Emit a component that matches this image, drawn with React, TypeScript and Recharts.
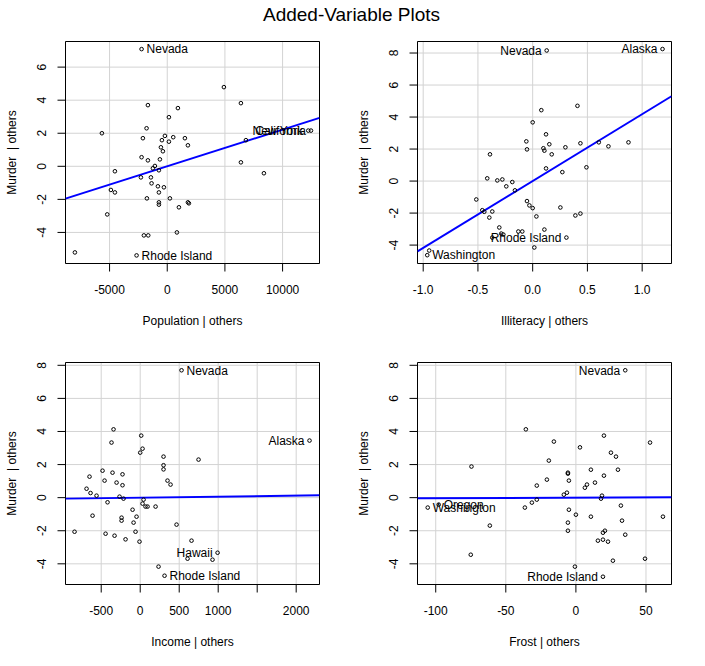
import React from "react";
import {
  ScatterChart, Scatter, XAxis, YAxis, CartesianGrid, ReferenceLine, ReferenceArea,
} from "recharts";

// residuals, one pair of arrays per panel
const popX = [4913, 6387, -1676, 925, 145, -1792, -5664, -2110, -202, 520, 1532, -462, 145, 1792, -549, -376, -2225, -1676, -636, -1069, -1243, -723, -4537, 6387, 8381, -2283, -1416, -1358, -809, -289, -4884, -4537, -723, -1763, 231, -723, -723, 1012, 1792, 1879, -5202, -2023, -1647, 838, -8005, 6820];
const popY = [4.79, 3.82, 3.7, 3.52, 2.97, 2.3, 2.0, 1.7, 1.84, 1.76, 1.7, 1.58, 1.49, 1.27, 1.15, 0.91, 0.55, 0.36, 0.42, 0.02, -0.12, -0.24, -0.3, 0.24, -0.42, -0.67, -0.67, -1.03, -1.21, -1.27, -1.43, -1.58, -1.58, -1.94, -1.94, -2.18, -2.32, -2.48, -2.18, -2.24, -2.91, -4.18, -4.18, -4.0, -5.21, 1.58];
const popNames = ["Nevada", "Rhode Island", "New York", "California"];
const popNameX = [-2225, -2659, 12227, 12462];
const popNameY = [7.09, -5.39, 2.16, 2.16];
const popNameSide = ["right", "right", "left", "left"];

const illX = [0.409, 0.079, 0.0, 0.122, -0.058, -0.052, 0.098, 0.107, 0.152, 0.174, 0.299, 0.436, 0.604, 0.692, 0.875, -0.39, 0.122, 0.271, 0.491, -0.415, -0.323, -0.277, -0.186, -0.241, -0.162, -0.515, -0.46, -0.442, -0.369, -0.396, -0.052, -0.03, 0.0, 0.034, 0.253, 0.39, 0.436, -0.305, -0.287, -0.268, -0.131, -0.095, 0.107, -0.369, 0.015, -0.945];
const illY = [4.7, 4.43, 3.67, 2.92, 2.48, 1.98, 2.05, 1.9, 2.3, 1.67, 2.11, 2.36, 2.42, 2.17, 2.42, 1.67, 0.79, 0.56, 0.86, 0.17, 0.04, 0.1, -0.06, -0.33, -0.58, -1.15, -1.82, -1.92, -1.9, -2.28, -1.25, -1.52, -1.69, -2.21, -1.65, -2.15, -2.03, -2.9, -3.28, -3.34, -3.15, -3.15, -3.03, -3.53, -4.15, -4.34];
const illNames = ["Nevada", "Alaska", "Rhode Island", "Washington"];
const illNameX = [0.128, 1.186, 0.308, -0.963];
const illNameY = [8.16, 8.25, -3.53, -4.63];
const illNameSide = ["left", "left", "left", "right"];

const incX = [-342, 13, -368, 30, 0, 299, 299, 299, 748, -483, -355, -227, -650, -457, -303, -227, 350, 389, -688, -637, -560, -265, -214, 43, 30, 68, 94, 197, -419, -611, -98, -47, -239, -239, -85, 466, -842, -444, -329, -188, -60, -9, 658, 927, 607, 235];
const incY = [4.13, 3.75, 3.33, 2.96, 2.72, 2.48, 1.96, 1.71, 2.3, 1.63, 1.51, 1.41, 1.27, 1.03, 0.91, 0.75, 1.03, 0.79, 0.54, 0.28, 0.12, 0.06, -0.06, -0.12, -0.36, -0.54, -0.54, -0.54, -0.28, -1.09, -0.73, -1.15, -1.21, -1.39, -1.51, -1.63, -2.06, -2.18, -2.3, -2.52, -2.06, -2.66, -2.6, -3.75, -3.69, -4.17];
const incNames = ["Nevada", "Alaska", "Hawaii", "Rhode Island"];
const incNameX = [530, 2171, 992, 312];
const incNameY = [7.7, 3.45, -3.33, -4.72];
const incNameSide = ["right", "left", "left", "right"];

const frostX = [-35.7, -15.7, 2.9, 20.0, 52.9, -74.5, -19.3, 25.0, 28.6, 10.7, 30.0, -5.7, -5.7, 20.0, -20.7, -5.0, -27.9, 13.6, 7.9, 6.4, -6.4, -8.6, 18.6, 17.9, -27.9, -31.4, -36.4, 32.1, -5.0, 0.0, 10.7, 32.9, 62.1, -5.7, -61.4, -5.7, 20.7, 19.3, 35.2, 15.7, 19.3, 22.9, -75.0, 26.4, 49.3, -0.7];
const frostY = [4.13, 3.39, 3.04, 3.75, 3.33, 1.88, 2.24, 2.72, 2.48, 1.69, 1.69, 1.51, 1.45, 1.33, 1.09, 1.03, 0.73, 0.91, 0.79, 0.6, 0.3, 0.18, 0.12, -0.06, -0.12, -0.3, -0.6, -0.48, -0.73, -1.03, -1.15, -1.39, -1.15, -1.51, -1.69, -2.0, -2.0, -2.12, -2.24, -2.6, -2.54, -2.66, -3.45, -3.81, -3.69, -4.17];
const frostNames = ["Nevada", "Rhode Island", "Washington", "Oregon"];
const frostNameX = [35.2, 19.3, -105.7, -97.9];
const frostNameY = [7.7, -4.78, -0.6, -0.42];
const frostNameSide = ["left", "left", "right", "right"];

// fitted slopes of the added-variable lines
const slopes = [0.000222, 4.18, 0.0000614, 0.0003];
const xTitles = ["Population | others", "Illiteracy | others", "Income | others", "Frost | others"];
const yTitle = "Murder\u00a0 | others";
const popTicks = [-5000, 0, 5000, 10000];
const illTicks = [-1.0, -0.5, 0.0, 0.5, 1.0];
const incTicks = [-500, 0, 500, 1000, 1500, 2000];
const frostTicks = [-100, -50, 0, 50];
const popYTicks = [-4, -2, 0, 2, 4, 6];
const otherYTicks = [-4, -2, 0, 2, 4, 6, 8];

const FONT = '"Liberation Sans", Arial, sans-serif';
const BOX_W = 254;
const BOX_H = 222;

const build = (xs: number[], ys: number[], names: string[], nx: number[], ny: number[], side: string[]) => [
  ...xs.map((x, i) => ({ x, y: ys[i] })),
  ...names.map((name, i) => ({ x: nx[i], y: ny[i], name, side: side[i] })),
];

const panels = [
  { left: 65.5, top: 41.5, data: build(popX, popY, popNames, popNameX, popNameY, popNameSide), xDomain: [-8820, 13200], yDomain: [-5.88, 7.55], xTicks: popTicks, yTicks: popYTicks, fmt: (v: number) => String(v) },
  { left: 417.5, top: 41.5, data: build(illX, illY, illNames, illNameX, illNameY, illNameSide), xDomain: [-1.052, 1.268], yDomain: [-5.15, 8.72], xTicks: illTicks, yTicks: otherYTicks, fmt: (v: number) => v.toFixed(1) },
  { left: 65.5, top: 362.5, data: build(incX, incY, incNames, incNameX, incNameY, incNameSide), xDomain: [-958, 2299], yDomain: [-5.25, 8.17], xTicks: incTicks, yTicks: otherYTicks, fmt: (v: number) => (v === 1500 ? "" : String(v)) },
  { left: 417.5, top: 362.5, data: build(frostX, frostY, frostNames, frostNameX, frostNameY, frostNameSide), xDomain: [-113, 68.2], yDomain: [-5.25, 8.17], xTicks: frostTicks, yTicks: otherYTicks, fmt: (v: number) => String(v) },
];

const Point = (props: any) => {
  const { cx, cy, payload } = props;
  const left = payload && payload.side === "left";
  return (
    <g>
      <circle cx={cx} cy={cy} r={1.8} fill="none" stroke="#000" strokeWidth={1} />
      {payload && payload.name ? (
        <text x={left ? cx - 5 : cx + 5} y={cy + 4.3} textAnchor={left ? "end" : "start"} fontSize={12} fontFamily={FONT} fill="#000">
          {payload.name}
        </text>
      ) : null}
    </g>
  );
};

const Panel = ({ p, slope }: { p: (typeof panels)[number]; slope: number }) => {
  const [x0, x1] = p.xDomain;
  const [y0, y1] = p.yDomain;
  return (
    <div style={{ position: "absolute", left: p.left - 65.5, top: p.top - 10.5 }}>
      <ScatterChart width={330} height={303} margin={{ top: 10.5, right: 10.5, bottom: 0.5, left: 0.5 }}>
        <CartesianGrid stroke="#d3d3d3" />
        <XAxis
          type="number" dataKey="x" domain={p.xDomain} ticks={p.xTicks} allowDataOverflow
          height={70} axisLine={false} stroke="#000" tickSize={8}
          tick={(t: any) => (
            <text x={t.x} y={t.y + 20} textAnchor="middle" fontSize={12} fontFamily={FONT} fill="#000">
              {p.fmt(t.payload.value)}
            </text>
          )}
        />
        <YAxis
          type="number" dataKey="y" domain={p.yDomain} ticks={p.yTicks} allowDataOverflow
          width={65} axisLine={false} stroke="#000" tickSize={8}
          tick={(t: any) => {
            const tx = t.x - 9.5;
            return (
              <text x={tx} y={t.y} transform={`rotate(-90 ${tx} ${t.y})`} textAnchor="middle" fontSize={12} fontFamily={FONT} fill="#000">
                {t.payload.value}
              </text>
            );
          }}
        />
        <Scatter data={p.data} shape={<Point />} isAnimationActive={false} />
        <ReferenceLine
          segment={[{ x: x0, y: slope * x0 }, { x: x1, y: slope * x1 }]}
          stroke="#0000ff" strokeWidth={2} ifOverflow="hidden"
        />
        <ReferenceArea x1={x0} x2={x1} y1={y0} y2={y1} fill="none" fillOpacity={0} stroke="#000" strokeWidth={1} />
      </ScatterChart>
    </div>
  );
};

export default function App() {
  return (
    <div style={{ position: "absolute", left: 0, top: 0, width: 705, height: 666, background: "#fff", fontFamily: FONT }}>
      {panels.map((p, i) => (
        <Panel key={i} p={p} slope={slopes[i]} />
      ))}
      <svg width={705} height={666} style={{ position: "absolute", left: 0, top: 0, pointerEvents: "none" }}>
        <text x={351.5} y={21} textAnchor="middle" fontSize={19} fontFamily={FONT} fill="#000">
          Added-Variable Plots
        </text>
        {panels.map((p, i) => {
          const yx = p.left - 50;
          const yy = p.top + BOX_H / 2;
          return (
            <g key={i}>
              <text x={p.left + BOX_W / 2} y={p.top + BOX_H + 61} textAnchor="middle" fontSize={12} fontFamily={FONT} fill="#000">
                {xTitles[i]}
              </text>
              <text x={yx} y={yy} transform={`rotate(-90 ${yx} ${yy})`} textAnchor="middle" fontSize={12} fontFamily={FONT} fill="#000">
                {yTitle}
              </text>
            </g>
          );
        })}
      </svg>
    </div>
  );
}
